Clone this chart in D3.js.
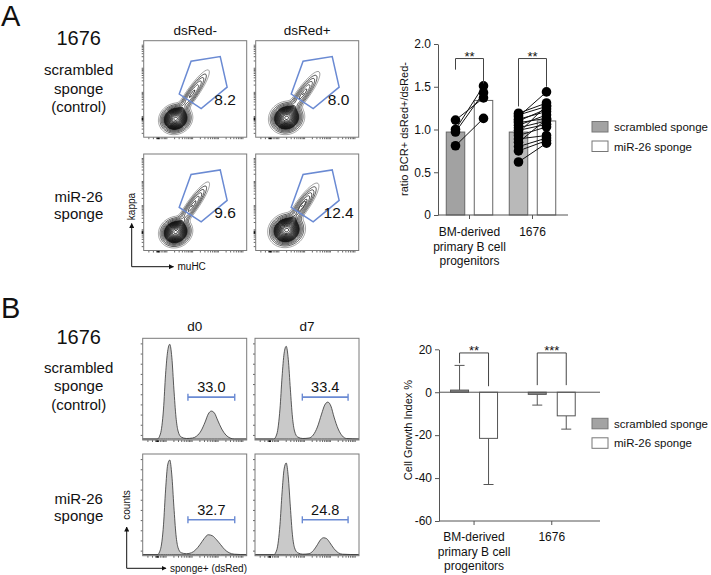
<!DOCTYPE html>
<html><head><meta charset="utf-8">
<script src="https://cdn.jsdelivr.net/npm/d3@7"></script>
<style>
body{margin:0;background:#fff}
svg{display:block}
text{font-family:"Liberation Sans",Arial,Helvetica,sans-serif;fill:#111}
</style>
</head><body>
<svg id="c" width="711" height="575"></svg>
<script>
// ---------------- DATA ----------------
const groups = ["BM", "1676"];
const groupLabelLines = [["BM-derived", "primary B cell", "progenitors"], ["1676"]];
const seriesNames = ["scrambled sponge", "miR-26 sponge"];

// Panel A bar chart: ratio BCR+ dsRed+/dsRed-
const ratioTicks = [0, 0.5, 1.0, 1.5, 2.0];
const ratioMeans = [[0.97, 1.34], [0.97, 1.10]];
const bmScrambledDots = [1.11, 1.00, 0.97, 0.81];
const bmMiRDots = [1.37, 1.51, 1.43, 1.13];
const c1676ScrambledDots = [1.19, 1.17, 1.15, 1.12, 1.10, 1.08, 1.05, 1.02, 0.99, 0.96, 0.93, 0.89, 0.85, 0.80, 0.75, 0.62];
const c1676MiRDots = [1.31, 1.27, 1.44, 1.21, 1.24, 1.13, 1.17, 1.10, 1.06, 1.28, 1.03, 0.93, 1.12, 0.90, 0.87, 0.84];
// brackets: [group index, top, left leg bottom, right leg bottom, label]
const ratioSig = [[0, 1.83, 1.70, 1.54, "**"], [1, 1.83, 1.27, 1.50, "**"]];

// Panel B bar chart: Cell Growth Index %
const growthTicks = [20, 0, -20, -40, -60];
const growthMeans = [[1, -21.5], [-1, -11]];
const growthSD = [[11.5, 21.5], [5, 6.2]];
const growthSig = [[0, 18.3, 13.5, 2.8, "**"], [1, 18.3, 3.3, 3.3, "***"]];

// Flow plots (panel A): contour components [cx, cy, sAlong, sPerp, angleDeg, weight] in 0-100 units
const flowColLabels = ["dsRed-", "dsRed+"];
const flowA1 = [[31, 19, 6.2, 5.6, 40, 1], [47, 45, 14, 2.8, 57, 0.18]];
const flowA2 = [[30, 20, 6.5, 6.0, 40, 1], [46, 45, 13, 3.0, 56, 0.19]];
const flowA3 = [[31, 19, 6.2, 5.6, 40, 1], [47, 46, 14, 2.8, 57, 0.19]];
const flowA4 = [[30, 21, 6.8, 6.2, 40, 1], [45, 46, 13, 3.1, 57, 0.21]];
const gatePolygon = [[34.5, 44.7], [46, 78.8], [74.3, 83.5], [81, 51.9], [55.8, 29.7]];
const gateValues = ["8.2", "8.0", "9.6", "12.4"];

// Histograms (panel B): [fluorescence 0-100, relative count 0-1]
const histColLabels = ["d0", "d7"];
const histB1 = [[0,0],[14,0],[17,0.05],[20,0.3],[22,0.65],[24,0.88],[26,0.95],[28,0.82],[30,0.5],[32,0.22],[34,0.08],[37,0.02],[42,0.005],[48,0.01],[52,0.03],[56,0.08],[60,0.17],[63,0.25],[66,0.28],[69,0.26],[72,0.19],[76,0.1],[80,0.04],[84,0.01],[88,0],[100,0]];
const histB2 = [[0,0],[18,0],[21,0.05],[24,0.3],[26,0.62],[28,0.86],[30,0.93],[32,0.8],[34,0.5],[36,0.22],[38,0.08],[41,0.02],[46,0.005],[52,0.01],[56,0.04],[60,0.12],[64,0.25],[67,0.34],[70,0.37],[73,0.33],[76,0.22],[80,0.1],[84,0.03],[88,0.005],[100,0]];
const histB3 = [[0,0],[14,0],[17,0.05],[20,0.3],[22,0.65],[24,0.9],[26,0.95],[28,0.8],[30,0.48],[32,0.2],[34,0.07],[37,0.02],[42,0.01],[47,0.02],[51,0.05],[55,0.1],[59,0.16],[63,0.2],[67,0.19],[71,0.15],[75,0.1],[79,0.05],[83,0.02],[88,0.005],[100,0]];
const histB4 = [[0,0],[18,0],[21,0.05],[24,0.3],[26,0.62],[28,0.86],[30,0.92],[32,0.78],[34,0.48],[36,0.2],[38,0.07],[41,0.02],[46,0.005],[52,0.01],[56,0.04],[60,0.1],[63,0.15],[66,0.17],[69,0.16],[72,0.12],[76,0.06],[80,0.02],[84,0.005],[100,0]];
const histMarkers = [[43.5, 88.5, 0.42], [45.5, 89.5, 0.42], [43.5, 88.5, 0.35], [45.5, 89.5, 0.35]];
const histValues = ["33.0", "33.4", "32.7", "24.8"];

// ---------------- DRAW ----------------
const svg = d3.select("#c");
const AX = "#555", BLUE = "#6a8ad3";
const scrFill = ["#a2a2a2", "#b9b9b9"];

function txt(g, x, y, s, size, anchor, extra) {
  const t = g.append("text").attr("x", x).attr("y", y).attr("font-size", size)
    .attr("text-anchor", anchor || "middle").text(s);
  if (extra) extra(t);
  return t;
}

// Panel letters and row labels
txt(svg, 1, 26, "A", 29, "start");
txt(svg, 1, 318, "B", 29, "start");
function rowLabels(y1676, yScr, yMiR) {
  txt(svg, 78.7, y1676, "1676", 20);
  ["scrambled", "sponge", "(control)"].forEach((s, i) => txt(svg, 78.7, yScr + i * 18.5, s, 15));
  ["miR-26", "sponge"].forEach((s, i) => txt(svg, 78.7, yMiR + i * 17, s, 15));
}
rowLabels(45, 75, 202);
rowLabels(344, 372.5, 503.5);

// ---------- Flow contour panels ----------
const flowRects = [[143.7, 40.7], [255.7, 40.7], [143.7, 154], [255.7, 154]];
const flowW = 103, flowH = 96.5;
const flowComps = [flowA1, flowA2, flowA3, flowA4];
const levels = [0.02, 0.04, 0.065, 0.095, 0.13].concat(
  d3.range(18).map(i => 0.17 * Math.pow(0.97 / 0.17, i / 17)));

function densityGrid(comps) {
  const n = 100, vals = new Float64Array(n * n);
  for (let j = 0; j < n; j++) for (let i = 0; i < n; i++) {
    let s = 0;
    for (const [cx, cy, sa, sp, ang, w] of comps) {
      const t = ang * Math.PI / 180, dx = i + 0.5 - cx, dy = j + 0.5 - cy;
      const a = dx * Math.cos(t) + dy * Math.sin(t), p = -dx * Math.sin(t) + dy * Math.cos(t);
      s += w * Math.exp(-0.5 * (a * a / (sa * sa) + p * p / (sp * sp)));
    }
    vals[j * n + i] = s;
  }
  return vals;
}
function logTicks(starts) {
  const out = [];
  starts.forEach(s => { for (let k = 1; k < 10; k++) { const v = s + Math.log10(k) * 25; if (v < 100 && v > 0) out.push(v); } });
  return out;
}
const minorTicks = logTicks([-3, 22, 47, 72]);

const defs = svg.append("defs");
flowRects.forEach(([x0, y0], idx) => {
  const xs = d3.scaleLinear().domain([0, 100]).range([x0, x0 + flowW]);
  const ys = d3.scaleLinear().domain([0, 100]).range([y0 + flowH, y0]);
  const g = svg.append("g");
  defs.append("clipPath").attr("id", "fc" + idx).append("rect")
    .attr("x", x0).attr("y", y0).attr("width", flowW).attr("height", flowH);
  const vals = densityGrid(flowComps[idx]);
  const conts = d3.contours().size([100, 100]).thresholds(levels)(vals);
  const path = d3.geoPath(d3.geoTransform({ point(x, y) { this.stream.point(xs(x), ys(y)); } }));
  const cg = g.append("g").attr("clip-path", `url(#fc${idx})`);
  cg.selectAll("path").data(conts).join("path")
    .attr("d", path)
    .attr("fill", "none")
    .attr("stroke", (d, i) => i < 1 ? "#777" : "#111")
    .attr("stroke-width", (d, i) => i < 5 ? 0.7 : 0.85);
  // gate
  g.append("path").attr("d", d3.line().x(d => xs(d[0])).y(d => ys(d[1]))(gatePolygon) + "Z")
    .attr("fill", "none").attr("stroke", BLUE).attr("stroke-width", 1.5);
  txt(g, xs(idx % 2 === 0 ? 79 : 80.5), ys(39.3) + 5.5, gateValues[idx], 15.5);
  // ticks
  g.append("g").attr("transform", `translate(${x0},0)`)
    .call(d3.axisLeft(ys).tickValues(minorTicks).tickSize(2).tickFormat(""))
    .call(a => a.select(".domain").remove()).selectAll("line").attr("stroke", "#666");
  g.append("g").attr("transform", `translate(0,${y0 + flowH})`)
    .call(d3.axisBottom(xs).tickValues(minorTicks).tickSize(2).tickFormat(""))
    .call(a => a.select(".domain").remove()).selectAll("line").attr("stroke", "#666");
  g.append("rect").attr("x", xs(13)).attr("y", y0 + flowH).attr("width", 2.5).attr("height", 2).attr("fill", "#111");
  g.append("rect").attr("x", x0 - 2).attr("y", ys(20)).attr("width", 2).attr("height", 2.5).attr("fill", "#111");
  g.append("rect").attr("x", x0).attr("y", y0).attr("width", flowW).attr("height", flowH)
    .attr("fill", "none").attr("stroke", "#7a7a7a").attr("stroke-width", 1);
});
flowColLabels.forEach((s, i) => txt(svg, flowRects[i][0] + flowW / 2, 35, s, 13.5));

// ---------- Histogram panels ----------
const histRects = [[142.7, 338.3], [255, 338.3], [142.7, 454], [255, 454]];
const histW = 104, histH = 101.7;
const hists = [histB1, histB2, histB3, histB4];
histRects.forEach(([x0, y0], idx) => {
  const xs = d3.scaleLinear().domain([0, 100]).range([x0, x0 + histW]);
  const ys = d3.scaleLinear().domain([0, 1]).range([y0 + histH - 1, y0 + 1]);
  const g = svg.append("g");
  const area = d3.area().x(d => xs(d[0])).y0(ys(0)).y1(d => ys(d[1])).curve(d3.curveMonotoneX);
  g.append("path").attr("d", area(hists[idx])).attr("fill", "#c9c9c9")
    .attr("stroke", "#333").attr("stroke-width", 0.8);
  const [m0, m1, my] = histMarkers[idx];
  const yy = ys(my);
  g.append("line").attr("x1", xs(m0)).attr("x2", xs(m1)).attr("y1", yy).attr("y2", yy)
    .attr("stroke", BLUE).attr("stroke-width", 1.6);
  [m0, m1].forEach(m => g.append("line").attr("x1", xs(m)).attr("x2", xs(m))
    .attr("y1", yy - 3.5).attr("y2", yy + 3.5).attr("stroke", BLUE).attr("stroke-width", 1.4));
  txt(g, xs((m0 + m1) / 2), yy - 5, histValues[idx], 14.5);
  g.append("g").attr("transform", `translate(${x0},0)`)
    .call(d3.axisLeft(d3.scaleLinear().domain([0, 100]).range([y0 + histH, y0])).tickValues(d3.range(5, 100, 10)).tickSize(2).tickFormat(""))
    .call(a => a.select(".domain").remove()).selectAll("line").attr("stroke", "#666");
  g.append("g").attr("transform", `translate(0,${y0 + histH})`)
    .call(d3.axisBottom(xs).tickValues(minorTicks).tickSize(2).tickFormat(""))
    .call(a => a.select(".domain").remove()).selectAll("line").attr("stroke", "#666");
  g.append("rect").attr("x", xs(13)).attr("y", y0 + histH).attr("width", 2.5).attr("height", 2).attr("fill", "#111");
  g.append("rect").attr("x", x0).attr("y", y0).attr("width", histW).attr("height", histH)
    .attr("fill", "none").attr("stroke", "#7a7a7a").attr("stroke-width", 1);
});
histColLabels.forEach((s, i) => txt(svg, histRects[i][0] + histW / 2, 331, s, 13.5));

// axis arrows
defs.append("marker").attr("id", "arr").attr("viewBox", "0 0 10 10").attr("refX", 9).attr("refY", 5)
  .attr("markerWidth", 5).attr("markerHeight", 5).attr("orient", "auto")
  .append("path").attr("d", "M0,0L10,5L0,10Z").attr("fill", "#111");
function arrows(ox, oy, top, right, vLabel, vY, hLabel) {
  svg.append("line").attr("x1", ox).attr("y1", oy).attr("x2", ox).attr("y2", top)
    .attr("stroke", "#111").attr("marker-end", "url(#arr)");
  svg.append("line").attr("x1", ox).attr("y1", oy).attr("x2", right).attr("y2", oy)
    .attr("stroke", "#111").attr("marker-end", "url(#arr)");
  txt(svg, 0, 0, vLabel, 10, "middle", t => t.attr("transform", `translate(${ox + 3.5},${vY}) rotate(-90)`));
  txt(svg, right + 4, oy + 3.5, hLabel, 10, "start");
}
arrows(131.7, 266.7, 223.5, 173.5, "kappa", 206.5, "muHC");
arrows(126.7, 568.3, 527, 166, "counts", 505, "sponge+ (dsRed)");

// ---------- Bar chart helpers ----------
function styleAxis(a) {
  a.selectAll(".domain").attr("stroke", AX);
  a.selectAll(".tick line").attr("stroke", AX);
  a.selectAll(".tick text").attr("font-size", 12).attr("fill", "#222")
    .attr("font-family", '"Liberation Sans",Arial,sans-serif');
}
function groupLabels(xs, y0) {
  groups.forEach((gname, gi) => {
    const cx = xs(gname) + xs.bandwidth() / 2;
    groupLabelLines[gi].forEach((s, li) => txt(svg, cx, y0 + li * 14.5, s, 12));
  });
}
function legend(y) {
  seriesNames.forEach((s, i) => {
    svg.append("rect").attr("x", 592).attr("y", y + i * 19.5).attr("width", 16).attr("height", 10.5)
      .attr("fill", i === 0 ? "#a3a3a3" : "#fff").attr("stroke", "#777").attr("stroke-width", 1);
    txt(svg, 614, y + i * 19.5 + 9.5, s, 11.5, "start");
  });
}
function brackets(sig, xs, ss, ys) {
  sig.forEach(([gi, top, lb, rb, lab]) => {
    const gname = groups[gi];
    const xl = xs(gname) + ss(seriesNames[0]) + ss.bandwidth() / 2;
    const xr = xs(gname) + ss(seriesNames[1]) + ss.bandwidth() / 2;
    svg.append("path").attr("d", `M${xl},${ys(lb)}V${ys(top)}H${xr}V${ys(rb)}`)
      .attr("fill", "none").attr("stroke", "#444").attr("stroke-width", 1);
    txt(svg, (xl + xr) / 2, ys(top) + 2, lab, 13);
  });
}

// ---------- Chart A (ratio) ----------
const xA = d3.scaleBand().domain(groups).range([438, 564]);
const sA = d3.scaleBand().domain(seriesNames).range([0, xA.bandwidth()]).paddingInner(0.34).paddingOuter(0.295);
const yA = d3.scaleLinear().domain([0, 2]).range([215, 44]);
svg.append("g").attr("transform", "translate(438,0)")
  .call(d3.axisLeft(yA).tickValues(ratioTicks).tickSize(4).tickSizeOuter(0)
    .tickFormat(d => d === 0 ? "0" : d3.format(".1f")(d))).call(styleAxis);
groups.forEach((gname, gi) => {
  seriesNames.forEach((s, si) => {
    const v = ratioMeans[gi][si];
    svg.append("rect").attr("x", xA(gname) + sA(s)).attr("width", sA.bandwidth())
      .attr("y", yA(v)).attr("height", yA(0) - yA(v))
      .attr("fill", si === 0 ? scrFill[gi] : "#fff").attr("stroke", "#666").attr("stroke-width", 1);
  });
});
svg.append("line").attr("x1", 438).attr("x2", 568).attr("y1", 215).attr("y2", 215).attr("stroke", AX);
groups.forEach(gname => {
  const cx = xA(gname) + xA.bandwidth() / 2;
  svg.append("line").attr("x1", cx).attr("x2", cx).attr("y1", 215).attr("y2", 219).attr("stroke", AX);
});
const dotPairs = [[bmScrambledDots, bmMiRDots], [c1676ScrambledDots, c1676MiRDots]];
dotPairs.forEach(([a, b], gi) => {
  const gname = groups[gi];
  const xa = xA(gname) + sA(seriesNames[0]) + sA.bandwidth() / 2;
  const xb = xA(gname) + sA(seriesNames[1]) + sA.bandwidth() / 2;
  a.forEach((v, i) => svg.append("line").attr("x1", xa).attr("y1", yA(v)).attr("x2", xb).attr("y2", yA(b[i]))
    .attr("stroke", "#111").attr("stroke-width", 1));
  a.forEach(v => svg.append("circle").attr("cx", xa).attr("cy", yA(v)).attr("r", 4.8).attr("fill", "#000"));
  b.forEach(v => svg.append("circle").attr("cx", xb).attr("cy", yA(v)).attr("r", 4.8).attr("fill", "#000"));
});
brackets(ratioSig, xA, sA, yA);
txt(svg, 0, 0, "ratio BCR+ dsRed+/dsRed-", 11, "middle", t => t.attr("transform", "translate(408,129) rotate(-90)"));
groupLabels(xA, 236);
legend(121.5);

// ---------- Chart B (growth) ----------
const xB = d3.scaleBand().domain(groups).range([435.2, 590.6]);
const sB = d3.scaleBand().domain(seriesNames).range([0, xB.bandwidth()]).paddingInner(0.38).paddingOuter(0.53);
const yB = d3.scaleLinear().domain([-60, 20]).range([521, 349.3]);
svg.append("g").attr("transform", "translate(439,0)")
  .call(d3.axisLeft(yB).tickValues(growthTicks).tickSize(4).tickSizeOuter(0).tickFormat(d => String(d))).call(styleAxis);
groups.forEach((gname, gi) => {
  seriesNames.forEach((s, si) => {
    const v = growthMeans[gi][si], sd = growthSD[gi][si];
    const x = xB(gname) + sB(s), cx = x + sB.bandwidth() / 2;
    const ye = yB(v + Math.sign(v) * sd);
    svg.append("line").attr("x1", cx).attr("x2", cx).attr("y1", yB(v)).attr("y2", ye).attr("stroke", "#555");
    svg.append("line").attr("x1", cx - 5).attr("x2", cx + 5).attr("y1", ye).attr("y2", ye).attr("stroke", "#555");
    svg.append("rect").attr("x", x).attr("width", sB.bandwidth())
      .attr("y", Math.min(yB(v), yB(0))).attr("height", Math.abs(yB(v) - yB(0)))
      .attr("fill", si === 0 ? "#8c8c8c" : "#fff").attr("stroke", "#555").attr("stroke-width", 1);
  });
});
svg.append("line").attr("x1", 439).attr("x2", 600).attr("y1", yB(0)).attr("y2", yB(0)).attr("stroke", AX);
svg.append("line").attr("x1", 439).attr("x2", 600).attr("y1", 521).attr("y2", 521).attr("stroke", AX);
groups.forEach(gname => {
  const cx = xB(gname) + xB.bandwidth() / 2;
  svg.append("line").attr("x1", cx).attr("x2", cx).attr("y1", 521).attr("y2", 525).attr("stroke", AX);
});
brackets(growthSig, xB, sB, yB);
txt(svg, 0, 0, "Cell Growth Index %", 11, "middle", t => t.attr("transform", "translate(412,430) rotate(-90)"));
groupLabels(xB, 541);
legend(418.3);
</script>
</body></html>
